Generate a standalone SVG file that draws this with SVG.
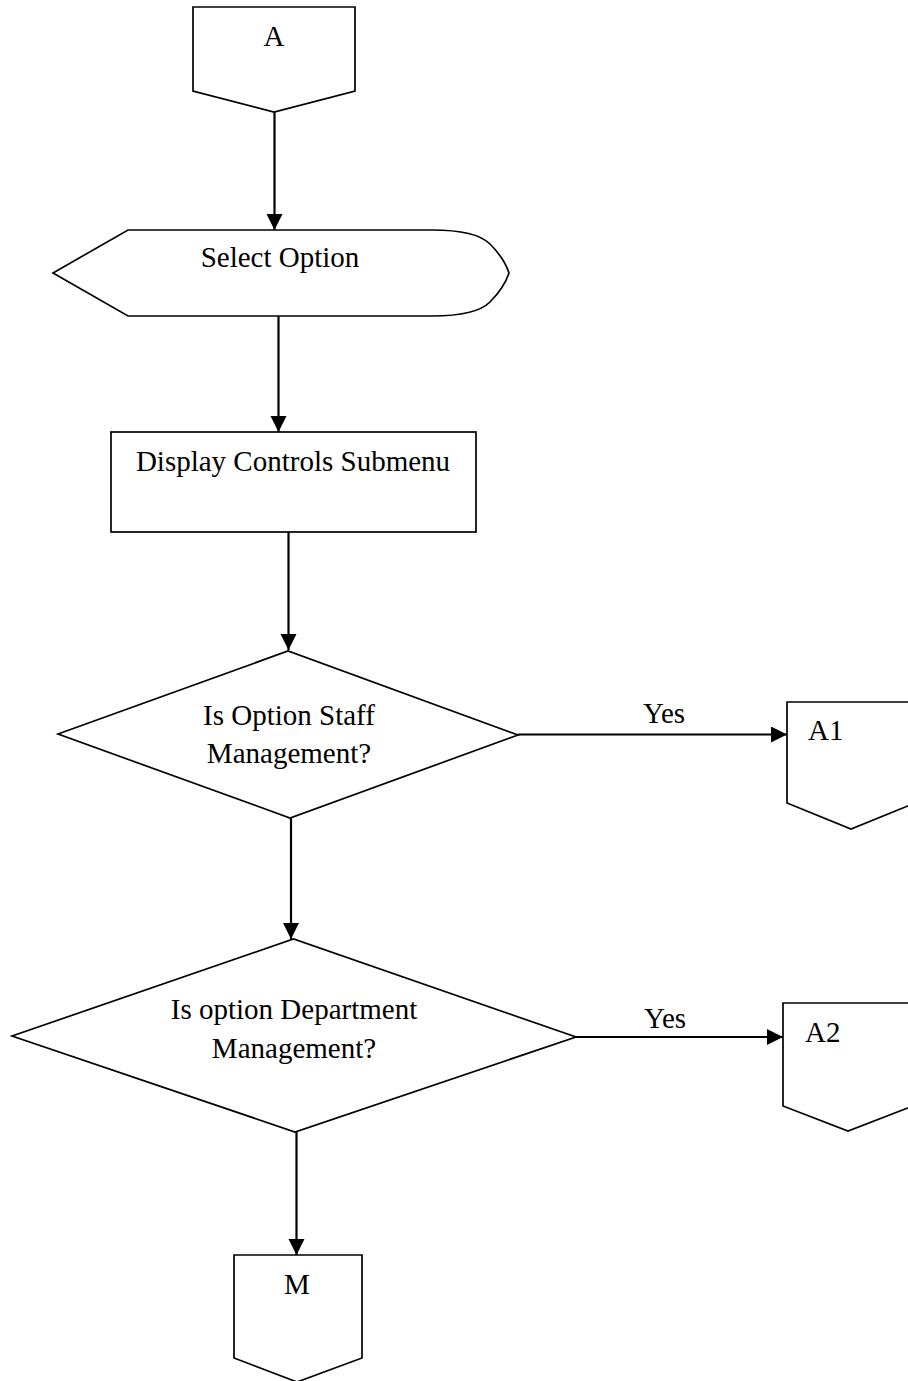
<svg xmlns="http://www.w3.org/2000/svg" width="908" height="1381" viewBox="0 0 908 1381">
<style>
.shape{fill:#fff;stroke:#000;stroke-width:1.7;stroke-linejoin:miter}
.conn{fill:none;stroke:#000;stroke-width:2.2}
.t{font-family:"Liberation Serif","Times New Roman",serif;font-size:29px;fill:#000}
.c{text-anchor:middle}
</style>
<defs>
<marker id="arr" markerUnits="userSpaceOnUse" markerWidth="17" markerHeight="17" refX="16" refY="8" orient="auto">
<path d="M0,0 L16,8 L0,16 z" fill="#000"/>
</marker>
</defs>
<rect width="908" height="1381" fill="#fff"/>
<g id="connectors">
<line class="conn" x1="274.5" y1="112" x2="274.5" y2="230" marker-end="url(#arr)"/>
<line class="conn" x1="278.5" y1="316" x2="278.5" y2="432" marker-end="url(#arr)"/>
<line class="conn" x1="288.5" y1="532" x2="288.5" y2="650" marker-end="url(#arr)"/>
<line class="conn" x1="518" y1="734.5" x2="787" y2="734.5" marker-end="url(#arr)"/>
<line class="conn" x1="291" y1="818" x2="291" y2="939" marker-end="url(#arr)"/>
<line class="conn" x1="576" y1="1037" x2="783" y2="1037" marker-end="url(#arr)"/>
<line class="conn" x1="296.5" y1="1132" x2="296.5" y2="1255" marker-end="url(#arr)"/>
<text class="t c" x="664" y="723">Yes</text>
<text class="t c" x="665" y="1028">Yes</text>
</g>
<g id="A">
<path class="shape" d="M193,7 L355,7 L355,91 L274,112 L193,91 Z"/>
<text class="t c" x="274" y="46">A</text>
</g>
<g id="select-option">
<path class="shape" d="M53,273 L128,230 L432,230 C465,230 482,236 490,244 C500,254 506,264 509,273 C506,282 500,292 490,302 C482,310 465,316 432,316 L128,316 Z"/>
<text class="t c" x="280" y="267">Select Option</text>
</g>
<g id="display-controls">
<rect class="shape" x="111" y="432" width="365" height="100"/>
<text class="t c" x="293" y="471">Display Controls Submenu</text>
</g>
<g id="decision-staff">
<path class="shape" d="M58,734 L288,651 L518,735 L290,818 Z"/>
<text class="t c" x="289" y="725">Is Option Staff</text>
<text class="t c" x="289" y="763">Management?</text>
</g>
<g id="A1">
<path class="shape" d="M787,702 L915,702 L915,803 L851,829 L787,803 Z"/>
<text class="t" x="808" y="740">A1</text>
</g>
<g id="decision-department">
<path class="shape" d="M12,1036 L293.5,939 L576,1037 L295,1132 Z"/>
<text class="t c" x="294" y="1019">Is option Department</text>
<text class="t c" x="294" y="1058">Management?</text>
</g>
<g id="A2">
<path class="shape" d="M783,1003 L913,1003 L913,1106 L848,1131 L783,1106 Z"/>
<text class="t" x="805" y="1042">A2</text>
</g>
<g id="M">
<path class="shape" d="M234,1255 L362,1255 L362,1358 L297,1382 L234,1358 Z"/>
<text class="t c" x="297" y="1294">M</text>
</g>
</svg>
